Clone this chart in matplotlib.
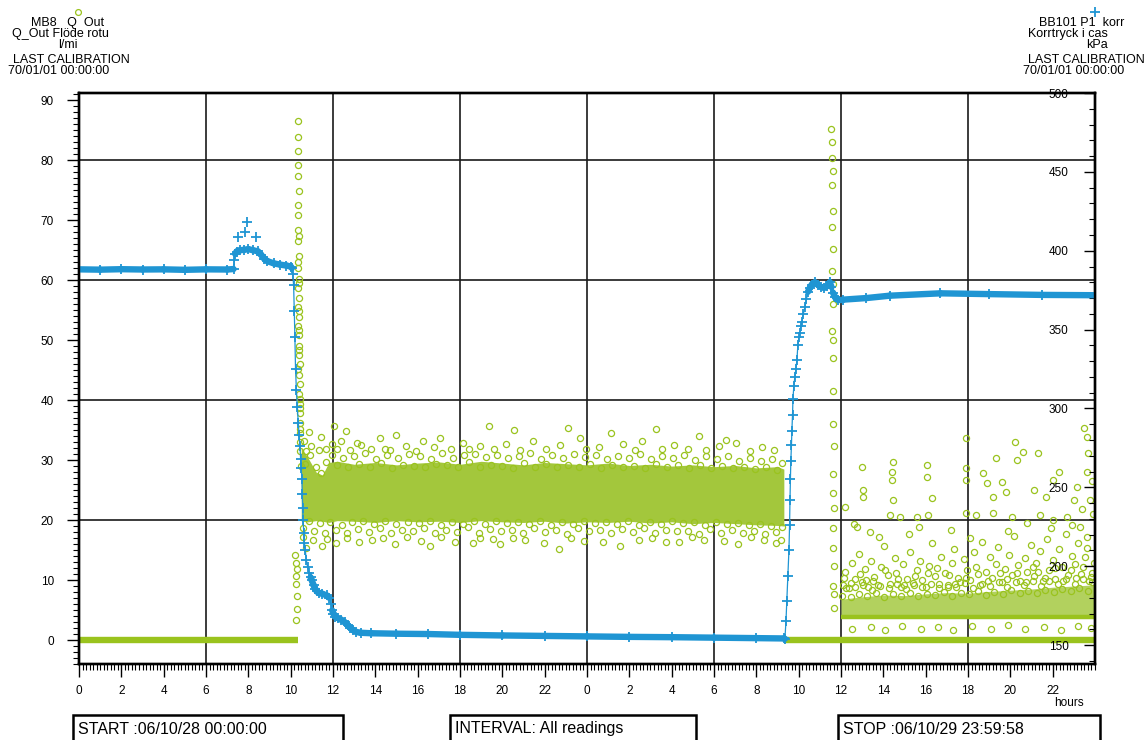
import numpy as np
import matplotlib
matplotlib.use("Agg")
import matplotlib.pyplot as plt
from matplotlib import font_manager
from matplotlib.patches import Rectangle
from matplotlib.lines import Line2D
from matplotlib.collections import LineCollection
from matplotlib.ticker import FixedLocator, MultipleLocator

GREEN = "#9ac31e"
GREEN_FILL = "#a3c73c"
GREEN_TAIL = "#b2d15e"
BLUE = "#1f95d3"

_avail = {f.name for f in font_manager.fontManager.ttflist}
HEAD_FONT = "Liberation Sans Narrow" if "Liberation Sans Narrow" in _avail else "Liberation Sans"
BODY_FONT = "Liberation Sans"

# ---------------- axis data ----------------
hour_ticks = list(range(0, 48, 2))
hour_labels = [str(h % 24) for h in hour_ticks]
grid_hours = [6, 12, 18, 24, 30, 36, 42]
grid_flow = [20, 40, 60, 80]
flow_ticks = list(range(0, 100, 10))
kpa_ticks = list(range(150, 550, 50))

# ---------------- BB101 P1 korr (kPa) ----------------
p1_hours = [
    0, 1, 2, 3, 4, 5, 6, 7, 7.3,
    7.34, 7.38, 7.45, 7.6, 7.8, 8.0, 8.2, 8.45, 8.6, 8.75, 8.9, 9.2, 9.5, 9.8,
    10.0, 10.06, 10.1, 10.14, 10.17, 10.2, 10.23, 10.27, 10.31, 10.36, 10.4, 10.44, 10.47,
    10.5, 10.53, 10.55, 10.57, 10.59, 10.62, 10.65, 10.69, 10.74, 10.8, 10.87, 10.94,
    11.0, 11.08, 11.16, 11.24, 11.35, 11.5, 11.7, 11.82, 11.9, 11.96, 12.02, 12.1, 12.25,
    12.4, 12.55, 12.7, 12.82, 12.94, 13.1, 13.3, 13.8,
    15, 16.5, 18, 20, 22, 24, 26, 28, 30, 32, 33.3,
    33.35, 33.4, 33.44, 33.49, 33.54, 33.57, 33.59, 33.61, 33.63, 33.66, 33.68, 33.71,
    33.73, 33.77, 33.82, 33.87, 33.92, 33.96, 34.01, 34.06, 34.1, 34.15, 34.22, 34.3,
    34.37, 34.44, 34.53, 34.62, 34.77, 34.9,
    35.05, 35.2, 35.33, 35.47, 35.55, 35.62, 35.72, 35.85, 36.1, 37.2, 38.3, 40.7, 43, 45.5, 48,
]
p1_kpa = [
    388.2, 388.0, 388.3, 388.1, 388.2, 387.9, 388.2, 388.1, 388.4,
    394, 398, 399.5, 400.3, 400.6, 401, 400.4, 399.6, 397.5, 395, 393.4, 392, 391.2, 390.6,
    390, 389, 385, 378, 362, 345, 325, 312, 301, 291, 283, 276, 268,
    262, 255, 246, 237, 229, 221, 215, 210, 204, 199.5, 196, 193,
    191, 188, 185.5, 184, 183, 182.5, 181.5, 180, 176, 172, 170, 168, 167,
    166, 164.5, 162.5, 161, 159.5, 158.3, 157.8, 157.5,
    157.2, 157, 156.5, 156.1, 155.8, 155.5, 155.2, 155, 154.7, 154.4, 154.2,
    154, 165, 178, 194, 210, 226, 242, 255, 267, 277, 286, 296,
    306, 314, 320, 325, 331, 340, 345, 348, 352, 355, 360, 364.5,
    369.5, 374, 376.5, 378.5, 380, 378.5,
    377, 376.5, 377.5, 380, 377, 373.5, 370.5, 369, 369, 370, 371.5, 373, 372.5, 372, 371.8,
]
p1_peak_hours = [7.5, 7.84, 7.93, 8.36]
p1_peak_kpa = [409, 412, 418, 409]

# ---------------- MB8 Q_Out (l/min) ----------------
q_zero_start = [0.0, 33.3]
q_zero_end = [10.35, 48.0]

q_band_hours = [10.5, 10.8, 11.2, 11.5, 11.8, 12.2, 13, 14, 15, 16, 17, 18, 19, 20,
                21, 22, 23, 24, 25, 26, 27, 28, 29, 30, 31, 32, 33, 33.3]
q_band_low = [19.8, 19.7, 19.9, 19.8, 19.6, 19.9, 19.8, 19.6, 19.9, 19.7, 19.8, 19.6, 19.9, 19.7,
              19.6, 19.8, 19.5, 19.7, 19.6, 19.8, 19.5, 19.7, 19.4, 19.6, 19.4, 19.2, 19.1, 19.0]
q_band_high = [32.0, 30.5, 28.0, 27.5, 29.6, 29.8, 29.3, 29.6, 29.2, 29.5, 29.7, 29.3, 29.8, 29.5,
               29.2, 29.6, 29.4, 29.2, 29.5, 29.1, 29.3, 29.0, 29.2, 28.9, 29.1, 28.7, 28.9, 28.5]

# readings around the rims of the dense band
q_band_rim = [
    (10.66, 29.4), (10.93, 30.8), (11.19, 28.9), (11.44, 27.9), (11.69, 29.6), (11.95, 30.9),
    (12.21, 29.1), (12.47, 30.4), (12.72, 28.8), (12.98, 30.7), (13.24, 29.3), (13.49, 31.1),
    (13.76, 28.9), (14.02, 30.2), (14.27, 29.5), (14.53, 30.9), (14.80, 28.7), (15.05, 30.3),
    (15.31, 29.2), (15.57, 31.0), (15.83, 29.0), (16.09, 30.6), (16.35, 28.8), (16.61, 30.1),
    (16.87, 29.4), (17.13, 31.2), (17.39, 29.1), (17.65, 30.4), (17.91, 28.9), (18.17, 30.8),
    (18.43, 29.6), (18.69, 31.0), (18.95, 28.8), (19.21, 30.5), (19.47, 29.2), (19.73, 30.9),
    (19.99, 29.0), (20.25, 30.3), (20.51, 28.7), (20.77, 30.7), (21.03, 29.5), (21.29, 31.1),
    (21.55, 28.9), (21.81, 30.2), (22.07, 29.3), (22.33, 30.8), (22.59, 28.8), (22.85, 30.4),
    (23.11, 29.1), (23.37, 31.0), (23.63, 28.9), (23.89, 30.5), (24.15, 29.4), (24.41, 30.9),
    (24.67, 28.7), (24.93, 30.1), (25.19, 29.2), (25.45, 30.7), (25.71, 28.8), (25.97, 30.4),
    (26.23, 29.0), (26.49, 31.0), (26.75, 28.6), (27.01, 30.2), (27.27, 29.3), (27.53, 30.6),
    (27.79, 28.8), (28.05, 30.3), (28.31, 29.1), (28.57, 30.8), (28.83, 28.7), (29.09, 30.0),
    (29.35, 29.2), (29.61, 30.6), (29.87, 28.6), (30.13, 30.1), (30.39, 29.0), (30.65, 30.7),
    (30.91, 28.6), (31.17, 29.9), (31.43, 28.9), (31.69, 30.4), (31.95, 28.5), (32.21, 29.8),
    (32.47, 28.8), (32.73, 30.2), (32.99, 28.4), (33.20, 29.5),
    (10.60, 18.6), (10.85, 19.9), (11.12, 18.2), (11.37, 19.5), (11.63, 17.9), (11.88, 19.7),
    (12.15, 18.4), (12.41, 19.2), (12.67, 17.8), (12.92, 19.6), (13.18, 18.5), (13.44, 19.9),
    (13.70, 18.0), (13.96, 19.3), (14.22, 18.7), (14.48, 19.8), (14.74, 17.9), (15.00, 19.4),
    (15.26, 18.3), (15.52, 19.7), (15.78, 18.1), (16.04, 19.5), (16.30, 18.6), (16.56, 19.9),
    (16.82, 17.8), (17.08, 19.2), (17.34, 18.4), (17.60, 19.6), (17.86, 18.0), (18.12, 19.4),
    (18.38, 18.8), (18.64, 19.9), (18.90, 17.9), (19.16, 19.3), (19.42, 18.5), (19.68, 19.8),
    (19.94, 18.1), (20.20, 19.5), (20.46, 18.3), (20.72, 19.7), (20.98, 17.8), (21.24, 19.4),
    (21.50, 18.6), (21.76, 19.9), (22.02, 18.0), (22.28, 19.2), (22.54, 18.4), (22.80, 19.6),
    (23.06, 17.7), (23.32, 19.3), (23.58, 18.7), (23.84, 19.8), (24.10, 18.1), (24.36, 19.5),
    (24.62, 18.3), (24.88, 19.7), (25.14, 17.9), (25.40, 19.4), (25.66, 18.5), (25.92, 19.9),
    (26.18, 18.0), (26.44, 19.2), (26.70, 18.6), (26.96, 19.6), (27.22, 17.8), (27.48, 19.3),
    (27.74, 18.4), (28.00, 19.8), (28.26, 18.1), (28.52, 19.5), (28.78, 18.2), (29.04, 19.6),
    (29.30, 17.7), (29.56, 19.2), (29.82, 18.5), (30.08, 19.7), (30.34, 17.9), (30.60, 19.3),
    (30.86, 18.3), (31.12, 19.5), (31.38, 17.8), (31.64, 19.1), (31.90, 18.2), (32.16, 19.4),
    (32.42, 17.6), (32.68, 19.0), (32.94, 18.0), (33.20, 18.9),
]

# scattered readings outside the dense band
q_band_scatter = [
    (10.62, 33.2), (10.71, 31.5), (10.88, 34.6), (10.97, 32.4), (11.33, 31.6),
    (11.41, 33.9), (11.66, 31.8), (11.93, 32.7), (12.04, 35.6), (12.18, 31.9),
    (12.37, 33.1), (12.63, 34.9), (12.81, 31.6), (13.15, 32.9),
    (13.31, 32.5), (13.78, 31.9), (14.21, 33.6), (14.44, 31.8),
    (14.69, 31.7), (14.98, 34.1), (15.46, 32.3), (15.94, 31.5),
    (16.23, 33.2), (16.77, 32.1), (17.05, 33.6), (17.58, 31.9),
    (18.12, 32.8), (18.43, 31.8), (18.96, 32.4), (19.38, 35.7),
    (19.62, 31.9), (20.18, 32.6), (20.57, 35.0), (20.84, 31.7),
    (21.46, 33.1), (22.05, 31.8), (22.71, 32.5), (23.08, 35.3),
    (23.66, 33.7), (23.94, 31.9), (24.55, 32.2), (25.12, 34.5), (25.69, 32.7), (26.28, 31.6),
    (26.61, 33.2), (27.24, 35.1), (27.52, 31.8), (28.11, 32.5), (28.76, 31.8), (29.31, 34.0),
    (29.64, 31.7), (30.25, 32.3), (30.58, 33.4), (31.03, 32.9), (31.69, 31.5),
    (32.27, 32.1), (32.84, 31.6),
    (10.58, 17.1), (10.74, 15.3), (11.07, 16.6), (11.48, 15.6), (11.71, 16.8),
    (12.14, 16.2), (12.66, 17.0), (13.21, 16.4), (13.83, 16.6), (14.35, 17.0),
    (14.91, 16.0), (15.51, 17.2), (16.14, 16.5), (16.58, 15.6),
    (17.11, 17.1), (17.76, 16.4), (18.62, 16.2), (18.93, 17.0), (19.58, 16.9), (19.87, 16.0),
    (20.49, 17.0), (21.06, 16.7), (21.98, 16.1), (22.68, 15.2), (23.26, 17.0), (23.88, 16.5),
    (24.76, 16.3), (25.57, 15.7), (26.47, 16.6), (27.09, 17.0), (27.73, 16.3), (28.37, 16.4),
    (28.98, 17.2), (29.55, 16.7), (30.46, 16.5), (31.12, 16.0), (31.74, 17.1), (32.36, 16.6),
    (32.95, 16.2), (33.18, 16.7),
]

q_spike_readings = [
    (10.33, 86.5), (10.36, 83.8), (10.34, 81.6), (10.37, 79.2), (10.35, 77.4), (10.38, 74.8),
    (10.36, 72.6), (10.34, 70.9), (10.37, 68.3), (10.35, 66.5), (10.39, 64.1), (10.36, 62.0),
    (10.38, 60.2), (10.35, 58.7), (10.40, 57.1), (10.37, 55.6), (10.39, 53.9), (10.36, 52.4),
    (10.41, 50.8), (10.38, 49.1), (10.40, 47.6), (10.42, 46.0), (10.39, 44.2), (10.43, 42.7),
    (10.41, 41.0), (10.44, 39.4), (10.42, 37.8), (10.45, 36.1), (10.44, 34.5), (10.46, 33.0),
    (10.37, 45.2), (10.39, 48.3), (10.41, 51.7), (10.38, 54.8), (10.40, 59.5), (10.42, 38.6),
    (10.44, 40.2), (10.43, 35.2), (10.45, 31.5), (10.47, 29.0), (10.36, 63.1), (10.38, 67.4),
    (10.22, 14.2), (10.25, 12.9), (10.27, 10.6), (10.24, 9.3), (10.28, 7.4), (10.30, 5.1),
    (10.26, 3.3), (10.29, 11.8),
    (35.55, 85.2), (35.58, 83.1), (35.56, 80.4), (35.60, 78.2), (35.57, 75.9), (35.61, 71.6),
    (35.58, 68.8), (35.62, 65.2), (35.59, 61.6), (35.60, 59.4), (35.63, 56.1), (35.58, 51.6),
    (35.61, 50.0), (35.64, 47.1), (35.60, 41.5), (35.62, 36.0), (35.65, 32.4), (35.61, 27.7),
    (35.63, 24.5), (35.66, 22.0), (35.62, 18.7), (35.64, 15.4), (35.67, 12.4), (35.63, 9.0),
    (35.65, 7.7), (35.68, 5.3),
]

q_tail_hours = [36.0, 37, 38, 39, 40, 41, 42, 43, 44, 45, 46, 47, 48]
q_tail_low = [3.8, 3.8, 3.8, 3.8, 3.8, 3.8, 3.8, 3.8, 3.8, 3.8, 3.8, 3.8, 3.8]
q_tail_high = [6.8, 7.2, 7.5, 7.4, 7.7, 7.9, 7.8, 8.1, 8.3, 8.5, 8.8, 9.0, 9.2]

q_tail_scatter = [
    (36.05, 7.4), (36.25, 8.6), (36.45, 7.1), (36.65, 8.9), (36.85, 7.7), (37.05, 9.2),
    (37.25, 7.3), (37.45, 8.4), (37.65, 7.9), (37.85, 9.0), (38.05, 7.2), (38.25, 8.7),
    (38.45, 7.6), (38.65, 9.3), (38.85, 7.4), (39.05, 8.5), (39.25, 7.8), (39.45, 9.1),
    (39.65, 7.3), (39.85, 8.8), (40.05, 7.7), (40.25, 9.4), (40.45, 7.5), (40.65, 8.6),
    (40.85, 8.0), (41.05, 9.2), (41.25, 7.4), (41.45, 8.9), (41.65, 7.9), (41.85, 9.5),
    (42.05, 7.6), (42.25, 8.7), (42.45, 8.1), (42.65, 9.3), (42.85, 7.5), (43.05, 9.0),
    (43.25, 8.0), (43.45, 9.6), (43.65, 7.7), (43.85, 8.8), (44.05, 8.3), (44.25, 9.7),
    (44.45, 7.8), (44.65, 9.1), (44.85, 8.2), (45.05, 9.8), (45.25, 7.9), (45.45, 9.0),
    (45.65, 8.4), (45.85, 9.9), (46.05, 8.0), (46.25, 9.3), (46.45, 8.5), (46.65, 10.1),
    (46.85, 8.1), (47.05, 9.4), (47.25, 8.6), (47.45, 10.2), (47.65, 8.2), (47.85, 9.6),
    (36.08, 9.2), (36.21, 11.4), (36.37, 8.7), (36.52, 12.8), (36.66, 10.1), (36.83, 14.3),
    (36.97, 9.6), (37.12, 11.9), (37.29, 8.9), (37.41, 13.1), (37.58, 10.5), (37.77, 9.1),
    (37.88, 12.2), (38.03, 15.6), (38.22, 10.8), (38.31, 9.4), (38.53, 13.6), (38.62, 11.2),
    (38.84, 8.8), (38.93, 12.6), (39.12, 10.2), (39.27, 14.7), (39.38, 9.5), (39.57, 11.7),
    (39.71, 13.2), (39.83, 10.0), (40.02, 8.9), (40.17, 12.4), (40.28, 16.1), (40.46, 10.7),
    (40.63, 9.3), (40.74, 13.8), (40.92, 11.1), (41.04, 8.8), (41.23, 12.9), (41.33, 15.2),
    (41.52, 10.4), (41.64, 9.7), (41.82, 13.5), (41.97, 11.6), (42.08, 10.0), (42.27, 14.6),
    (42.38, 12.1), (42.57, 9.2), (42.68, 16.4), (42.86, 11.3), (43.02, 13.9), (43.13, 10.3),
    (43.32, 12.7), (43.44, 15.5), (43.62, 9.6), (43.73, 11.9), (43.92, 14.1), (44.06, 10.8),
    (44.18, 17.3), (44.37, 12.5), (44.48, 9.9), (44.67, 13.7), (44.79, 11.4), (44.96, 15.9),
    (45.11, 10.6), (45.23, 12.9), (45.42, 14.8), (45.53, 9.8), (45.72, 16.8), (45.84, 11.7),
    (46.02, 13.3), (46.13, 10.2), (46.32, 15.1), (46.43, 12.2), (46.62, 17.6), (46.73, 10.9),
    (46.91, 14.0), (47.04, 12.6), (47.22, 16.2), (47.33, 11.0), (47.52, 13.8), (47.63, 15.4),
    (47.81, 10.5), (47.93, 12.9),
    (36.15, 10.3), (36.45, 9.5), (36.90, 11.0), (37.20, 10.0), (37.50, 9.9), (38.10, 11.7),
    (38.70, 10.1), (39.00, 9.1), (39.50, 10.6), (40.10, 11.2), (40.55, 12.0), (41.10, 10.9),
    (41.40, 9.4), (41.90, 10.3), (42.45, 11.0), (42.95, 9.8), (43.50, 11.2), (43.85, 10.1),
    (44.30, 11.1), (44.75, 9.7), (45.05, 12.1), (45.30, 11.3), (45.65, 10.4), (46.10, 12.0),
    (46.50, 9.9), (46.85, 11.6), (47.10, 10.3), (47.45, 12.2), (47.70, 9.8), (47.88, 11.1),
    (36.20, 22.1), (36.60, 19.3), (36.75, 18.8), (37.05, 25.0), (37.05, 23.8), (37.35, 18.0),
    (37.80, 17.2), (38.30, 20.8), (38.40, 28.0), (38.40, 26.7), (38.45, 29.7), (38.45, 23.3),
    (38.80, 20.5), (39.60, 20.5), (39.70, 18.8), (40.05, 29.2), (40.05, 27.2), (40.10, 20.8),
    (40.30, 23.7), (41.90, 33.7), (41.90, 28.7), (41.90, 26.7), (41.90, 21.2), (42.40, 20.8),
    (42.70, 27.8), (42.90, 26.2), (43.20, 23.8), (43.20, 21.2), (43.30, 30.3), (43.60, 26.3),
    (43.80, 24.7), (44.10, 20.5), (44.20, 33.0), (44.30, 30.0), (44.60, 31.3), (44.80, 19.5),
    (45.10, 25.0), (45.30, 31.1), (45.40, 20.8), (45.70, 23.8), (46.00, 26.7), (46.00, 20.0),
    (46.30, 28.0), (46.70, 20.5), (47.00, 23.3), (47.15, 25.5), (47.30, 18.8), (47.50, 35.3),
    (47.60, 33.8), (47.60, 28.0), (47.60, 17.2), (47.65, 31.1), (47.75, 23.3), (47.85, 26.5),
    (47.90, 21.0), (37.00, 28.8), (39.20, 17.6), (41.20, 18.4), (42.10, 17.0), (43.90, 18.1),
    (45.90, 18.6), (46.90, 19.2), (47.40, 21.8),
    (36.50, 1.8), (37.40, 2.2), (38.10, 1.6), (38.90, 2.4), (39.80, 1.9), (40.60, 2.1),
    (41.30, 1.7), (42.20, 2.3), (43.10, 1.8), (43.90, 2.5), (44.70, 1.9), (45.60, 2.2),
    (46.40, 1.6), (47.20, 2.4), (47.80, 2.0),
]

# ---------------- figure ----------------
W, H = 1146, 740
fig = plt.figure(figsize=(W / 100, H / 100), dpi=100)
fig.patch.set_facecolor("white")

ax = fig.add_axes([79 / W, 1 - 664 / H, (1095 - 79) / W, (664 - 93) / H])
ax2 = ax.twinx()

ax.set_xlim(0, 48)
ax.set_ylim(-4.0, 91.2)
ax2.set_ylim(138, 500)

# grid
for gh in grid_hours:
    ax.axvline(gh, color="#1a1a1a", lw=1.2, zorder=0.8)
for gq in grid_flow:
    ax.axhline(gq, color="#1a1a1a", lw=1.2, zorder=0.8)

# flow: dense cores
ax.fill_between(q_band_hours, q_band_low, q_band_high, color=GREEN_FILL, lw=0, zorder=1.5)
ax.fill_between(q_tail_hours, q_tail_low, q_tail_high, color=GREEN_TAIL, lw=0, zorder=1.5)

# flow: zero readings and tail floor
ax.hlines([0, 0], q_zero_start, q_zero_end, color=GREEN, lw=4.6, zorder=2)
ax.hlines(q_tail_low[0], q_tail_hours[0], q_tail_hours[-1], color=GREEN, lw=3.2, zorder=2)

circle_kw = dict(ls="none", marker="o", ms=4.4, mfc="none", mec=GREEN, mew=0.9, zorder=2.2)
for pts in (q_band_rim, q_band_scatter, q_spike_readings, q_tail_scatter):
    hh, vv = zip(*pts)
    ax.plot(hh, vv, **circle_kw)

# pressure: thick trace where it is level, individual + marks on fast changes
h = np.asarray(p1_hours, float)
v = np.asarray(p1_kpa, float)
slope = np.abs(np.diff(v) / np.diff(h))
segs = [[(h[i], v[i]), (h[i + 1], v[i + 1])] for i in range(len(h) - 1) if slope[i] < 40]
ax2.add_collection(LineCollection(segs, colors=BLUE, linewidths=4.6, capstyle="round", zorder=2))
ax2.plot(h, v, color=BLUE, lw=0.9, marker="+", ms=6.5, mew=1.3, zorder=2.1)
ax2.plot(p1_peak_hours, p1_peak_kpa, ls="none", color=BLUE, marker="+", ms=6.5, mew=1.3)

# spines
for a in (ax, ax2):
    for s in a.spines.values():
        s.set_linewidth(1.7)
        s.set_color("black")

# x axis
ax.xaxis.set_major_locator(FixedLocator(hour_ticks))
ax.set_xticklabels(hour_labels)
ax.xaxis.set_minor_locator(MultipleLocator(1 / 6))
ax.tick_params(axis="x", which="major", direction="out", length=9, width=1.0, pad=6,
               labelsize=8.5, top=False)
ax.tick_params(axis="x", which="minor", direction="out", length=4, width=0.8, top=False)

# left axis (flow)
ax.yaxis.set_major_locator(FixedLocator(flow_ticks))
ax.yaxis.set_minor_locator(MultipleLocator(1))
ax.tick_params(axis="y", which="major", direction="out", length=9, width=1.0, pad=9, labelsize=8.5)
ax.tick_params(axis="y", which="minor", direction="out", length=4.5, width=0.8)

# right axis (pressure) with labels inside the frame
ax2.yaxis.set_major_locator(FixedLocator(kpa_ticks))
ax2.yaxis.set_minor_locator(MultipleLocator(10))
ax2.tick_params(axis="y", which="major", direction="in", length=8, width=1.0, pad=-19, labelsize=8.5)
ax2.tick_params(axis="y", which="minor", direction="in", length=4.5, width=0.8)
for t in ax2.yaxis.get_major_ticks():
    t.label2.set_horizontalalignment("right")

for lab in ax.get_xticklabels() + ax.get_yticklabels() + ax2.get_yticklabels():
    lab.set_fontfamily(BODY_FONT)

fig.text(1069 / W, 1 - 703 / H, "hours", ha="center", va="center", fontsize=8.5, family=BODY_FONT)

# headers
def ftext(x, y, s, ha="center", size=9):
    fig.text(x / W, 1 - y / H, s, ha=ha, va="center", fontsize=size, family=HEAD_FONT)

ftext(68, 23, "MB8   Q  Out")
ftext(60, 34, "Q_Out Flöde rotu")
ftext(68, 45, "l/mi")
ftext(13, 60, "LAST CALIBRATION", ha="left")
ftext(8, 71, "70/01/01 00:00:00", ha="left")

ftext(1082, 23, "BB101 P1  korr")
ftext(1068, 34, "Korrtryck i cas")
ftext(1097, 45, "kPa")
ftext(1028, 60, "LAST CALIBRATION", ha="left")
ftext(1023, 71, "70/01/01 00:00:00", ha="left")

fig.add_artist(Line2D([78 / W], [1 - 12 / H], transform=fig.transFigure, ls="none",
                      marker="o", ms=4.2, mfc="none", mec=GREEN, mew=0.9))
fig.add_artist(Line2D([1095 / W], [1 - 12 / H], transform=fig.transFigure, ls="none",
                      marker="+", ms=6.5, mec=BLUE, mew=1.3))

# footer boxes
def footer(x0, x1, label):
    fig.add_artist(Rectangle((x0 / W, -0.02), (x1 - x0) / W, (H - 715) / H + 0.02,
                             transform=fig.transFigure, fill=False, ec="black", lw=1.8,
                             clip_on=False))
    fig.text((x0 + 5) / W, 1 - 729 / H, label, ha="left", va="center", fontsize=11.5,
             family=BODY_FONT)

footer(73, 343, "START :06/10/28 00:00:00")
footer(450, 696, "INTERVAL: All readings")
footer(838, 1100, "STOP :06/10/29 23:59:58")

fig.savefig("out.png", dpi=100, facecolor="white")
